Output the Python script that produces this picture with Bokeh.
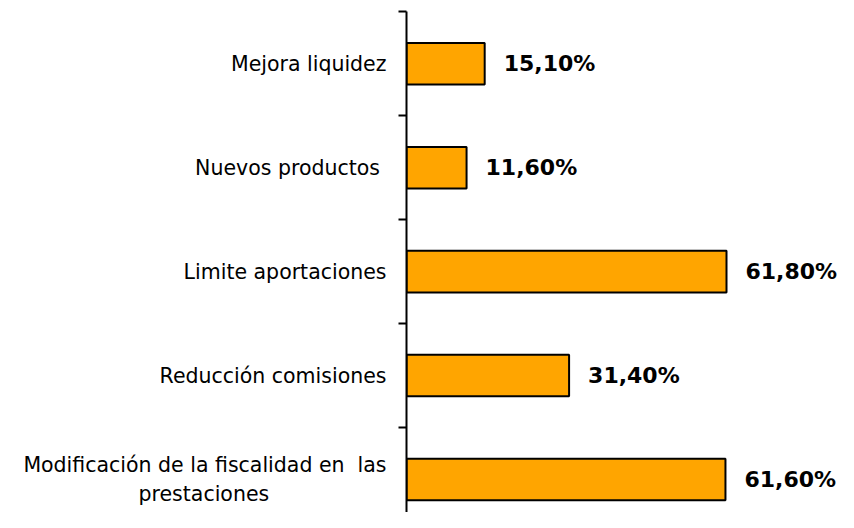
from bokeh.plotting import figure
from bokeh.models import ColumnDataSource, Range1d, FixedTicker, LinearAxis
from bokeh.core.properties import value
from bokeh.embed import file_html
from bokeh.resources import INLINE

NBSP = "\u00a0"
categories = [
    "Mejora liquidez",
    "Nuevos productos" + NBSP,
    "Limite aportaciones",
    "Reducción comisiones",
    "Modificación de la fiscalidad en " + NBSP + "las\nprestaciones" + NBSP * 18,
]
values = [15.1, 11.6, 61.8, 31.4, 61.6]
value_labels = ["15,10%", "11,60%", "61,80%", "31,40%", "61,60%"]

n = len(categories)
ypos = [n - 1 - i for i in range(n)]  # top category highest

src = ColumnDataSource(dict(y=ypos, v=values, lab=value_labels))

PX_PER_CAT = 104.0
W, H = 838, 512
TOP = 11
frame_h = H - TOP
y_top = n - 0.5
y_bot = y_top - frame_h / PX_PER_CAT

LEFT = 406
frame_w = W - LEFT
px_per_unit = 320.0 / 61.8
x_max = frame_w / px_per_unit

p = figure(width=W, height=H, output_backend="svg", toolbar_location=None,
           x_range=Range1d(0, x_max), y_range=Range1d(y_bot, y_top + 0.003),
           x_axis_location=None, y_axis_location=None,
           min_border_left=LEFT, min_border_top=TOP, min_border_bottom=0, min_border_right=0)
p.outline_line_color = None
p.xgrid.visible = False
p.ygrid.visible = False
p.background_fill_color = "white"
p.border_fill_color = "white"

p.hbar(y="y", right="v", left=0, height=0.4, source=src,
       fill_color="#FFA500", line_color="black", line_width=2)

p.text(x="v", y="y", text="lab", source=src, x_offset=19,
       text_align="left", text_baseline="middle",
       text_font=value("DejaVu Sans"), text_font_style="bold",
       text_font_size="22px", text_color="black")

ax = LinearAxis()
ax.ticker = FixedTicker(ticks=ypos, minor_ticks=[y + 0.5 for y in range(-1, n)])
ax.major_label_overrides = {y: c for y, c in zip(ypos, categories)}
ax.major_tick_in = 0
ax.major_tick_out = 0
ax.major_tick_line_color = None
ax.minor_tick_in = 0
ax.minor_tick_out = 8
ax.minor_tick_line_width = 2
ax.minor_tick_line_color = "black"
ax.axis_line_width = 2
ax.axis_line_color = "black"
ax.major_label_standoff = 12
ax.major_label_text_font = "DejaVu Sans"
ax.major_label_text_font_size = "20.5px"
ax.major_label_text_color = "black"
p.add_layout(ax, "left")

open("out.html", "w").write(file_html(p, INLINE))
